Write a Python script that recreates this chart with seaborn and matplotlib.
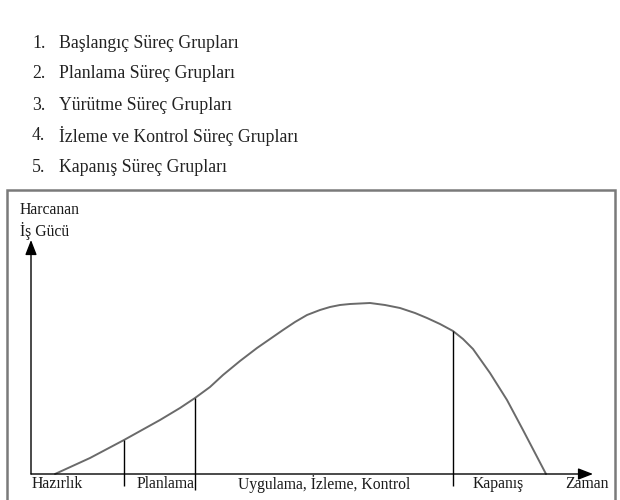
import matplotlib
matplotlib.use("Agg")
import matplotlib.pyplot as plt
from matplotlib.patches import Rectangle
import pandas as pd
import seaborn as sns

# process groups listed above the diagram
process_groups = [
    "Başlangıç Süreç Grupları",
    "Planlama Süreç Grupları",
    "Yürütme Süreç Grupları",
    "İzleme ve Kontrol Süreç Grupları",
    "Kapanış Süreç Grupları",
]

# effort curve (time, effort spent)
time = [24, 59, 93, 129, 149, 164, 179, 192, 209, 226, 239, 252, 264, 276,
        289, 299, 309, 319, 339, 354, 369, 384, 396, 409, 422, 432, 442,
        459, 476, 492, 515]
effort = [0, 16, 34, 54, 66, 76, 87, 99, 113, 126, 135, 144, 152, 159,
          164, 167, 169, 170, 171, 169, 166, 161, 156, 150, 143, 135, 125,
          101, 74, 44, 0]

# phase boundaries on the time axis and their labels
boundary_time = [93, 164, 422]
boundary_effort = [34, 76, 143]
boundary_bottom = [-12, -16, -12]
phase_labels = ["Hazırlık", "Planlama", "Uygulama, İzleme, Kontrol", "Kapanış", "Zaman"]
phase_label_x = [1, 106, 207, 442, 534]
y_label = "Harcanan\nİş Gücü"

sns.set_style("white")
plt.rcParams["font.family"] = ["Liberation Serif", "DejaVu Serif"]

fig = plt.figure(figsize=(6.2, 5.0), dpi=100)
ax = fig.add_axes([0, 0, 1, 1])
ax.set_xlim(-31, 589)
ax.set_ylim(-26, 474)
ax.axis("off")

# numbered list
for i, name in enumerate(process_groups):
    y = 1 - (43 + 31 * i) / 500
    fig.text(32 / 620, y, f"{i + 1}.", fontsize=12.8, color="#222222", va="center")
    fig.text(59 / 620, y, name, fontsize=12.8, color="#222222", va="center")

# frame of the diagram
ax.add_patch(Rectangle((-24, -40), 608, 324, fill=False, edgecolor="#7a7a7a",
                       linewidth=1.8, clip_on=False))

# axes arrows
arrow = dict(arrowstyle="-|>,head_length=0.9,head_width=0.35", color="black", lw=1.0,
             shrinkA=0, shrinkB=0)
ax.annotate("", xy=(0, 234), xytext=(0, 0), arrowprops=arrow)
ax.annotate("", xy=(562, 0), xytext=(0, 0), arrowprops=arrow)

# effort curve
df = pd.DataFrame({"time": time, "effort": effort})
sns.lineplot(data=df, x="time", y="effort", ax=ax, color="#6a6a6a", linewidth=1.4,
             sort=False)

# phase boundaries
ax.vlines(boundary_time, boundary_bottom, boundary_effort, colors="black", linewidth=1.0)

# labels
for lab, x in zip(phase_labels, phase_label_x):
    ax.text(x, -10, lab, fontsize=11.3, color="#1a1a1a", va="center", ha="left")
ax.text(-11, 253, y_label, fontsize=11.3, color="#1a1a1a", va="center", ha="left",
        linespacing=1.25)

fig.savefig("out.png", dpi=100)
